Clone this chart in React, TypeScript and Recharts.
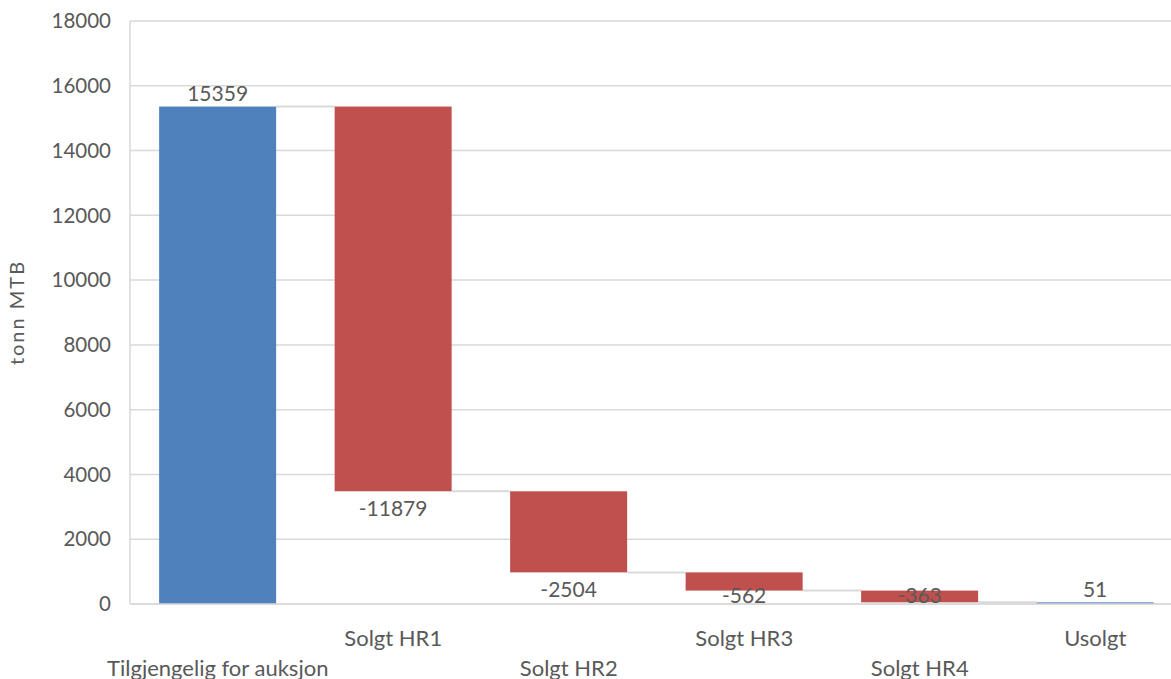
import { BarChart, Bar, XAxis, YAxis, CartesianGrid, Cell, LabelList } from "recharts"

const categories = [
  "Tilgjengelig for auksjon",
  "Solgt HR1",
  "Solgt HR2",
  "Solgt HR3",
  "Solgt HR4",
  "Usolgt",
]
// signed changes; first and last are totals
const changes = [15359, -11879, -2504, -562, -363, 51]
const isTotal = [true, false, false, false, false, true]
const yTicks = [0, 2000, 4000, 6000, 8000, 10000, 12000, 14000, 16000, 18000]

const VIEW_W = 1171
const CHART_W = 1183 // plot runs a little past the visible edge
const CHART_H = 679
const AXIS_W = 130
const PLOT_TOP = 21
const PLOT_BOTTOM = 75
const BAND = (CHART_W - AXIS_W) / categories.length
const FONT = "Lato, 'Open Sans', sans-serif"
const TEXT = "#595959"
const GRID = "#d9d9d9"
const BLUE = "#4f81bd"
const RED = "#c0504d"

// running totals: invisible base + visible block
const rows = (() => {
  let running = 0
  return categories.map((name, i) => {
    const v = changes[i]
    if (isTotal[i]) {
      running = v
      return { name, base: 0, delta: v, end: v }
    }
    const after = running + v
    const row = { name, base: Math.min(running, after), delta: Math.abs(v), end: after }
    running = after
    return row
  })
})()

function WaterfallBar(props: any) {
  const { x, y, width, height, index } = props
  const last = index === rows.length - 1
  // connector sits at the bar's end value: top for totals, bottom for drops
  const endY = isTotal[index] ? y : y + height
  const gap = BAND - width
  return (
    <g>
      {!last && (
        <line x1={x + width} x2={x + width + gap} y1={endY} y2={endY} stroke={GRID} strokeWidth={2} />
      )}
      <rect x={x} y={y} width={width} height={Math.max(height, 1.5)} fill={isTotal[index] ? BLUE : RED} />
    </g>
  )
}

function ValueLabel(props: any) {
  const { x, y, width, height, index } = props
  const v = changes[index]
  const zeroY = CHART_H - PLOT_BOTTOM
  let cy: number
  if (v >= 0) cy = y - 14
  else cy = Math.min(y + height + 16, zeroY - 10)
  return (
    <text x={x + width / 2} y={cy} textAnchor="middle" dominantBaseline="central" fill={TEXT} fontSize={21} fontFamily={FONT}>
      {v}
    </text>
  )
}

function CategoryTick(props: any) {
  const { x, payload, index } = props
  const lower = index % 2 === 0
  const cy = CHART_H - PLOT_BOTTOM + (lower ? 63 : 33)
  return (
    <text x={x} y={cy} textAnchor="middle" dominantBaseline="central" fill={TEXT} fontSize={22} fontFamily={FONT}>
      {payload.value}
    </text>
  )
}

export default function App() {
  return (
    <div style={{ width: VIEW_W, height: CHART_H, overflow: "hidden" }}>
      <style>{`body { margin: 0; }`}</style>
      <BarChart
        width={CHART_W}
        height={CHART_H}
        data={rows}
        margin={{ top: PLOT_TOP, right: 0, left: 0, bottom: PLOT_BOTTOM - 5 }}
        barCategoryGap="16.6%"
      >
        <CartesianGrid vertical={false} stroke={GRID} strokeWidth={1.5} />
        <XAxis
          dataKey="name"
          interval={0}
          tick={<CategoryTick />}
          tickLine={false}
          axisLine={{ stroke: GRID, strokeWidth: 1.5 }}
          height={5}
        />
        <YAxis
          width={AXIS_W}
          domain={[0, 18000]}
          ticks={yTicks}
          tickLine={false}
          axisLine={{ stroke: GRID, strokeWidth: 1.5 }}
          tickMargin={13}
          tick={{ fill: TEXT, fontSize: 20.5, fontFamily: FONT }}
          label={{
            value: "tonn MTB",
            angle: -90,
            position: "insideLeft",
            offset: 17,
            style: { fill: TEXT, fontSize: 20, letterSpacing: 2, fontFamily: FONT, textAnchor: "middle" },
          }}
        />
        <Bar dataKey="base" stackId="w" fill="transparent" isAnimationActive={false} />
        <Bar dataKey="delta" stackId="w" shape={<WaterfallBar />} isAnimationActive={false}>
          {rows.map((r, i) => (
            <Cell key={r.name} fill={isTotal[i] ? BLUE : RED} />
          ))}
          <LabelList dataKey="delta" content={<ValueLabel />} />
        </Bar>
      </BarChart>
    </div>
  )
}
